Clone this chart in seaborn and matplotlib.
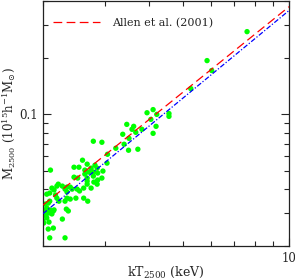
import matplotlib
matplotlib.use("Agg")
import matplotlib.pyplot as plt
from matplotlib.ticker import LogLocator, NullFormatter, FixedLocator, FixedFormatter
import pandas as pd
import seaborn as sns

sns.set_style("ticks")
plt.rcParams["font.family"] = "serif"
plt.rcParams["font.serif"] = ["DejaVu Serif"]
plt.rcParams["mathtext.fontset"] = "dejavuserif"

# cluster temperatures (keV) and masses (10^15 h^-1 Msun)
kT = [7.60, 5.85, 6.03, 5.26, 4.11, 3.95, 4.21, 4.56, 4.56, 4.05,
      3.46, 3.62, 4.19, 3.82, 3.58, 3.67, 4.11, 3.37, 3.51, 2.78,
      2.94, 3.40, 3.22, 3.50, 3.72, 3.05, 2.59, 2.67, 3.04, 2.45,
      2.53, 2.10, 2.63, 2.81, 2.74, 2.85, 2.78, 2.70, 2.86, 2.96,
      2.63, 2.45, 2.51, 2.67, 2.78, 2.94, 2.67, 2.79, 2.67, 2.86,
      2.61, 2.74, 2.85, 2.27, 2.19, 2.34, 2.39, 2.31, 2.42, 2.34,
      2.50, 2.54, 2.12, 2.15, 2.09, 2.05, 2.17, 2.19, 2.34, 2.39,
      2.48, 2.31, 2.22, 2.61, 2.68, 2.07, 2.03, 2.09, 2.05, 2.03,
      2.09, 2.15, 2.07, 2.03, 2.12, 2.05, 2.01, 2.08, 2.27, 2.33,
      2.36, 2.14, 2.00, 2.07, 2.14, 2.09, 2.31, 2.21]
m2500 = [0.275, 0.193, 0.171, 0.137, 0.106, 0.102, 0.100, 0.101, 0.0976, 0.0941,
         0.0885, 0.0864, 0.0864, 0.0833, 0.0833, 0.0803, 0.0793, 0.0784, 0.0746, 0.0720,
         0.0711, 0.0694, 0.0661, 0.0645, 0.0653, 0.0614, 0.0571, 0.0544, 0.0551, 0.0524,
         0.0524, 0.0506, 0.0506, 0.0537, 0.0518, 0.0518, 0.0494, 0.0494, 0.0488, 0.0500,
         0.0482, 0.0464, 0.0459, 0.0459, 0.0470, 0.0459, 0.0442, 0.0437, 0.0426, 0.0448,
         0.0406, 0.0406, 0.0426, 0.0416, 0.0416, 0.0411, 0.0411, 0.0401, 0.0401, 0.0387,
         0.0401, 0.0392, 0.0406, 0.0397, 0.0382, 0.0377, 0.0373, 0.0359, 0.0359, 0.0355,
         0.0359, 0.0346, 0.0346, 0.0359, 0.0346, 0.0338, 0.0334, 0.0346, 0.0318, 0.0307,
         0.0311, 0.0311, 0.0299, 0.0292, 0.0296, 0.0282, 0.0265, 0.0268, 0.0278, 0.0314,
         0.0307, 0.0307, 0.0272, 0.0246, 0.0249, 0.0221, 0.0221, 0.0426]

# relation end points at the plot edges
line_kT = [2.0, 10.0]
allen_m = [0.033, 0.373]
fit_m = [0.0297, 0.356]

pts = pd.DataFrame({"kT": kT, "M": m2500})

fig = plt.figure(figsize=(2.95, 2.80), dpi=100)
ax = fig.add_axes([43 / 295, 34 / 280, 246 / 295, 245 / 280])

sns.scatterplot(data=pts, x="kT", y="M", color="#00ff00", s=15,
                edgecolor="none", ax=ax, zorder=2)
sns.lineplot(x=line_kT, y=allen_m, color="#ff0000", lw=0.9,
             ax=ax, label="Allen et al. (2001)", zorder=3)
ax.lines[-1].set_dashes((7, 3.5))
sns.lineplot(x=line_kT, y=fit_m, color="#0000ff", lw=0.9, ax=ax, zorder=3)
ax.lines[-1].set_dashes((4, 1.5, 1, 1.5))

ax.set_xscale("log")
ax.set_yscale("log")
ax.set_xlim(2, 10)
ax.set_ylim(0.02, 0.4)

ax.xaxis.set_major_locator(FixedLocator([10]))
ax.xaxis.set_major_formatter(FixedFormatter(["10"]))
ax.xaxis.set_minor_locator(LogLocator(base=10, subs=range(2, 10)))
ax.xaxis.set_minor_formatter(NullFormatter())
ax.yaxis.set_major_locator(FixedLocator([0.1]))
ax.yaxis.set_major_formatter(FixedFormatter(["0.1"]))
ax.yaxis.set_minor_locator(LogLocator(base=10, subs=range(2, 10)))
ax.yaxis.set_minor_formatter(NullFormatter())

ax.tick_params(which="both", direction="in", top=True, right=True,
               labelsize=8.5, width=0.8)
ax.tick_params(which="major", length=6, pad=4)
ax.tick_params(which="minor", length=3.5)
for sp in ax.spines.values():
    sp.set_linewidth(0.9)
    sp.set_color("#222222")

ax.set_xlabel(r"kT$_{2500}$ (keV)", fontsize=9)
ax.set_ylabel(r"M$_{2500}$ (10$^{15}$h$^{-1}$M$_{\odot}$)", fontsize=8.5)
ax.xaxis.set_label_coords(0.5, -0.075)
ax.yaxis.set_label_coords(-0.1, 0.5)

leg = ax.legend(loc="center left", bbox_to_anchor=(0.04, 0.91), frameon=False,
                fontsize=8, handlelength=4.2, handletextpad=1.1,
                borderpad=0, borderaxespad=0)

fig.savefig("out.png", dpi=100)
